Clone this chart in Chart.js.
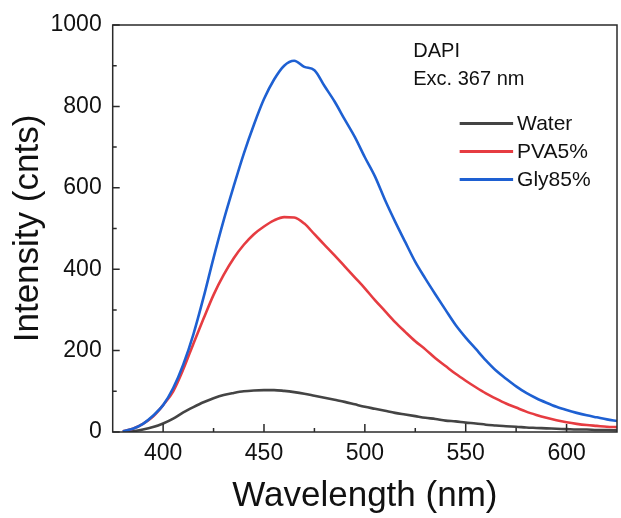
<!DOCTYPE html>
<html><head><meta charset="utf-8">
<script src="https://cdn.jsdelivr.net/npm/chart.js@4.4.1/dist/chart.umd.min.js"></script>
<style>html,body{margin:0;padding:0;background:#fff}#wrap{width:621px;height:518px;position:relative}</style>
</head><body><div id="wrap"><canvas id="c" width="621" height="518"></canvas></div>
<script>
const wavelengths = [380,385,390,395,400,405,410,415,420,425,430,435,440,445,450,455,460,465,470,475,480,485,490,495,500,505,510,515,520,525,530,535,540,545,550,555,560,565,570,575,580,585,590,595,600,605,610,615,620,625];
const water = [0,2,6,12,21,33,48,61,73,83,91,96,100,102,103,103,101,98,94,89,84,79,74,68,62,57,52,47,43,39,35,32,28,26,23,21,18,16,14,13,11,10,9,8,7,6,6,5,5,4];
const pva5 = [2,8,20,38,66,100,154,217,278,337,386,427,460,486,505,520,528,527,512,486,460,434,407,380,353,324,297,270,246,223,203,181,162,143,126,110,95,82,70,60,50,42,35,29,24,20,17,15,13,12];
const gly85 = [2,8,20,40,66,108,166,240,330,428,520,604,684,755,818,866,900,912,897,889,850,812,768,725,675,628,570,517,467,418,377,338,300,263,232,204,176,151,131,112,96,83,72,62,54,47,41,36,31,27];
const seriesLabels = ['Water','PVA5%','Gly85%'];
const seriesColors = ['#444444','#e63c41','#1e60d2'];
const xTicks = [400,450,500,550,600];
const xMinorTicks = [425,475,525,575];
const yTicks = [0,200,400,600,800,1000];
const yMinorTicks = [100,300,500,700,900];
const xRange = [375,625];
const yRange = [0,1000];
const annotationLines = ['DAPI','Exc. 367 nm'];
const xTitle = 'Wavelength (nm)';
const yTitle = 'Intensity (cnts)';

const FONT = '"Liberation Sans", Arial, Helvetica, sans-serif';
const seriesValues = [water, pva5, gly85];

const datasets = seriesValues.map((vals, i) => ({
  label: seriesLabels[i],
  data: wavelengths.map((w, j) => ({x: w, y: vals[j]})),
  borderColor: seriesColors[i],
  backgroundColor: seriesColors[i],
  borderWidth: 2.6,
  pointRadius: 0,
  cubicInterpolationMode: 'monotone',
  fill: false,
  order: seriesValues.length - i
}));

const framePlugin = {
  id: 'frame',
  afterDatasetsDraw(chart) {
    const {ctx, chartArea: a, scales: {x, y}} = chart;
    ctx.save();
    ctx.strokeStyle = '#2a2a2a';
    ctx.lineWidth = 1.5;
    ctx.strokeRect(a.left, a.top, a.right - a.left, a.bottom - a.top);
    ctx.beginPath();
    xTicks.forEach(v => { const p = x.getPixelForValue(v); ctx.moveTo(p, a.bottom); ctx.lineTo(p, a.bottom - 8); });
    xMinorTicks.forEach(v => { const p = x.getPixelForValue(v); ctx.moveTo(p, a.bottom); ctx.lineTo(p, a.bottom - 4); });
    yTicks.forEach(v => { const p = y.getPixelForValue(v); ctx.moveTo(a.left, p); ctx.lineTo(a.left + 7, p); });
    yMinorTicks.forEach(v => { const p = y.getPixelForValue(v); ctx.moveTo(a.left, p); ctx.lineTo(a.left + 4, p); });
    ctx.stroke();

    ctx.fillStyle = '#111';
    ctx.font = '20px ' + FONT;
    ctx.textAlign = 'left';
    ctx.textBaseline = 'alphabetic';
    const ax = x.getPixelForValue(524);
    ctx.fillText(annotationLines[0], ax, y.getPixelForValue(921));
    ctx.fillText(annotationLines[1], ax, y.getPixelForValue(853));

    const lx0 = x.getPixelForValue(547), lx1 = x.getPixelForValue(573.5);
    ctx.font = '21px ' + FONT;
    ctx.textBaseline = 'middle';
    chart.data.datasets.forEach((ds, i) => {
      const ly = y.getPixelForValue(758) + i * 28;
      ctx.strokeStyle = ds.borderColor;
      ctx.lineWidth = 3;
      ctx.beginPath(); ctx.moveTo(lx0, ly); ctx.lineTo(lx1, ly); ctx.stroke();
      ctx.fillStyle = '#111';
      ctx.fillText(ds.label, lx1 + 4, ly + 1);
    });
    ctx.restore();
  }
};

new Chart(document.getElementById('c'), {
  type: 'line',
  data: {datasets},
  options: {
    responsive: false,
    devicePixelRatio: 1,
    animation: false,
    layout: {padding: {top: 25, right: 4, left: 0, bottom: 0}},
    plugins: {legend: {display: false}, tooltip: {enabled: false}},
    scales: {
      x: {
        type: 'linear', min: xRange[0], max: xRange[1],
        afterBuildTicks: s => { s.ticks = xTicks.map(v => ({value: v})); },
        afterFit: s => { s.height = 86; },
        grid: {display: false},
        border: {display: false},
        ticks: {color: '#111', font: {family: FONT, size: 23}, padding: 0, maxRotation: 0, autoSkip: false, callback: v => String(v)},
        title: {display: true, text: xTitle, color: '#111', font: {family: FONT, size: 35, lineHeight: 1.2}, padding: {top: 0, bottom: 1}}
      },
      y: {
        type: 'linear', min: yRange[0], max: yRange[1],
        afterBuildTicks: s => { s.ticks = yTicks.map(v => ({value: v})); },
        afterFit: s => { s.width = 112.7; },
        grid: {display: false},
        border: {display: false},
        ticks: {color: '#111', font: {family: FONT, size: 23}, padding: 3, autoSkip: false, callback: v => String(v)},
        title: {display: true, text: yTitle, color: '#111', font: {family: FONT, size: 35, lineHeight: 1.2}, padding: {top: 7, bottom: 0}}
      }
    }
  },
  plugins: [framePlugin]
});
</script>
</body></html>
